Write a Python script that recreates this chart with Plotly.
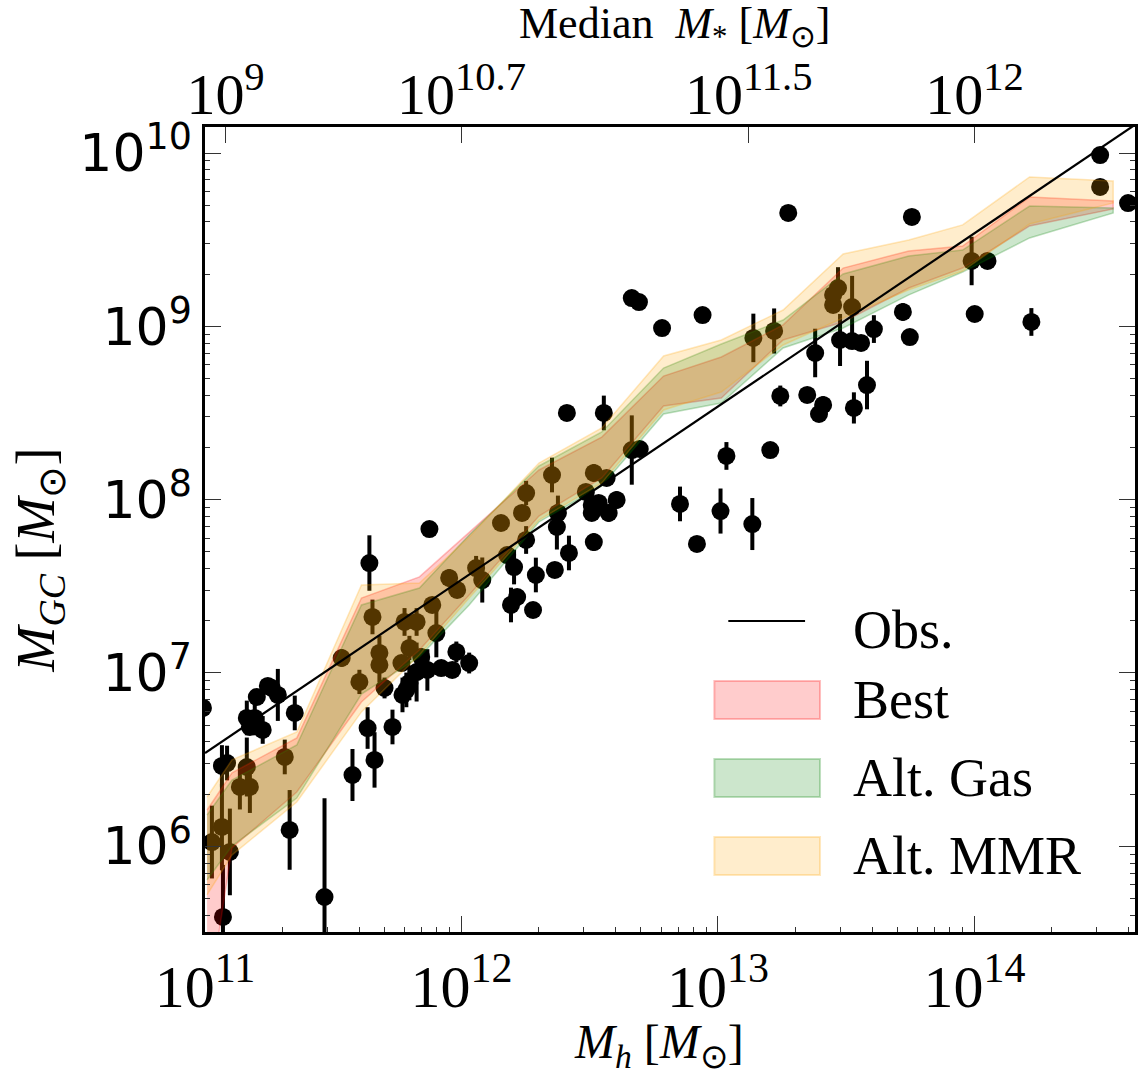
import numpy as np
import plotly.graph_objects as go

# ---- observed systems: log10 halo mass, log10 GC system mass, log10 error (dex) ----
obs_log_mh = [10.992, 11.027, 11.066, 11.086, 11.066, 11.070, 11.097, 11.136, 11.163, 11.175,
              11.163, 11.194, 11.202, 11.225, 11.175, 11.245, 11.260, 11.284, 11.311, 11.330,
              11.350, 11.466, 11.533, 11.575, 11.602, 11.634, 11.641, 11.653, 11.661, 11.680,
              11.680, 11.700, 11.731, 11.766, 11.778, 11.825, 11.770, 11.785, 11.797, 11.797,
              11.825, 11.843, 11.867, 11.875, 11.886, 11.902, 11.921, 11.964, 11.952, 11.980,
              11.983, 12.030, 12.057, 12.081, 12.154, 12.178, 12.205, 12.193, 12.217, 12.236,
              12.252, 12.252, 12.290, 12.279, 12.353, 12.364, 12.376, 12.372, 12.411, 12.419,
              12.485, 12.508, 12.535, 12.508, 12.574, 12.605, 12.516, 12.516, 12.555, 12.566,
              12.664, 12.695, 12.664, 12.692, 12.782, 12.852, 12.918, 12.940, 13.010, 13.033,
              13.134, 13.138, 13.204, 13.219, 13.243, 13.274, 13.348, 13.379, 13.394, 13.410,
              13.449, 13.449, 13.468, 13.476, 13.523, 13.558, 13.523, 13.530, 13.581, 13.608,
              13.721, 13.748, 13.756, 13.989, 14.001, 14.051, 14.222, 14.490, 14.490, 14.599]
obs_log_mgc = [6.798, 6.024, 6.463, 6.480, 6.111, 5.592, 5.967, 6.342, 6.457, 6.342,
               6.740, 6.740, 6.861, 6.671, 6.688, 6.925, 6.913, 6.873, 6.515, 6.094,
               6.769, 5.707, 7.086, 6.411, 6.948, 6.682, 7.634, 7.323, 6.498, 7.115,
               7.046, 6.913, 6.688, 7.057, 7.294, 7.294, 6.873, 6.902, 6.942, 7.144,
               7.005, 7.092, 7.017, 7.830, 7.392, 7.230, 7.028, 7.017, 7.548, 7.121,
               7.479, 7.057, 7.605, 7.536, 7.865, 7.680, 7.611, 7.392, 7.438, 7.923,
               8.038, 7.767, 7.565, 7.363, 8.142, 7.594, 7.923, 7.842, 8.500, 7.692,
               8.044, 7.969, 7.981, 7.923, 7.923, 7.998, 7.755, 8.154, 8.500, 8.125,
               8.286, 8.292, 9.163, 9.140, 8.990, 7.975, 7.744, 9.065, 7.934, 8.252,
               7.859, 8.933, 8.286, 8.973, 8.598, 9.654, 8.604, 8.846, 8.494, 8.546,
               9.123, 9.181, 9.221, 8.921, 8.915, 8.904, 9.111, 8.529, 8.661, 8.984,
               9.083, 8.938, 9.631, 9.377, 9.071, 9.377, 9.025, 9.988, 9.804, 9.711]
obs_log_err = [0.00, 0.21, 0.12, 0.10, 0.25, 0.30, 0.25, 0.13, 0.17, 0.15,
               0.10, 0.10, 0.00, 0.08, 0.00, 0.00, 0.00, 0.15, 0.10, 0.23,
               0.10, 0.57, 0.05, 0.15, 0.07, 0.12, 0.16, 0.10, 0.16, 0.10,
               0.10, 0.06, 0.10, 0.00, 0.08, 0.08, 0.10, 0.10, 0.10, 0.07,
               0.17, 0.05, 0.12, 0.00, 0.00, 0.14, 0.00, 0.00, 0.05, 0.06,
               0.00, 0.06, 0.07, 0.13, 0.03, 0.00, 0.10, 0.10, 0.00, 0.00,
               0.07, 0.08, 0.10, 0.00, 0.10, 0.00, 0.10, 0.13, 0.00, 0.10,
               0.00, 0.07, 0.00, 0.00, 0.05, 0.05, 0.05, 0.05, 0.10, 0.00,
               0.20, 0.00, 0.00, 0.00, 0.00, 0.10, 0.00, 0.00, 0.13, 0.08,
               0.15, 0.14, 0.00, 0.13, 0.06, 0.04, 0.00, 0.14, 0.00, 0.05,
               0.00, 0.00, 0.12, 0.15, 0.00, 0.00, 0.18, 0.09, 0.14, 0.08,
               0.05, 0.00, 0.00, 0.14, 0.00, 0.00, 0.08, 0.00, 0.00, 0.00]

# ---- observed scaling relation ----
rel_mh = [1.0e11, 4.3e14]
rel_mgc = [3.45e6, 1.48e10]

# ---- model bands (log10 values at the binned halo masses) ----
band_log_mh = [11.008, 11.105, 11.358, 11.610, 11.836, 12.030, 12.302, 12.547,
               12.788, 13.013, 13.254, 13.488, 13.744, 13.954, 14.215, 14.541]
best_hi = [6.209, 6.423, 6.625, 7.432, 7.554, 7.813, 8.171, 8.361,
           8.713, 8.823, 9.008, 9.336, 9.435, 9.463, 9.746, 9.723]
best_lo = [5.055, 5.990, 6.313, 6.832, 7.132, 7.450, 7.905, 8.125,
           8.540, 8.586, 8.921, 9.025, 9.221, 9.336, 9.579, 9.677]
gas_hi = [6.180, 6.382, 6.584, 7.392, 7.490, 7.796, 8.194, 8.390,
          8.759, 8.898, 9.036, 9.302, 9.406, 9.440, 9.694, 9.683]
gas_lo = [5.805, 6.001, 6.278, 6.878, 7.092, 7.392, 7.871, 8.079,
          8.494, 8.557, 8.875, 8.990, 9.181, 9.313, 9.510, 9.654]
mmr_hi = [6.284, 6.498, 6.659, 7.507, 7.519, 7.784, 8.211, 8.413,
          8.829, 8.921, 9.094, 9.417, 9.498, 9.585, 9.862, 9.838]
mmr_lo = [5.719, 5.949, 6.255, 6.775, 7.103, 7.432, 7.882, 8.096,
          8.517, 8.621, 8.892, 9.048, 9.210, 9.319, 9.590, 9.712]

# ---- axis ticks ----
x_major = [11, 12, 13, 14]
y_major = [6, 7, 8, 9, 10]
top_tick_log_mh = [11.08, 12.0, 13.12, 14.0]
top_tick_text = ["10<sup>9</sup>", "10<sup>10.7</sup>", "10<sup>11.5</sup>", "10<sup>12</sup>"]

SERIF = "Liberation Serif"
SANS = "DejaVu Sans"

x_range = [11.0, 14.626]
y_range = [5.505, 10.150]

fig = go.Figure()

# observed points with error bars (drawn first, bands sit over them)
lm = np.array(obs_log_mgc)
le = np.array(obs_log_err)
fig.add_trace(go.Scatter(
    x=10 ** np.array(obs_log_mh), y=10 ** lm, mode="markers",
    marker=dict(color="black", size=18, line=dict(width=0)),
    error_y=dict(type="data", symmetric=False,
                 array=10 ** (lm + le) - 10 ** lm,
                 arrayminus=10 ** lm - 10 ** (lm - le),
                 color="black", thickness=4, width=0),
    showlegend=False, hoverinfo="skip"))

bands = [
    ("Best", best_lo, best_hi, "rgba(255,0,0,0.2)", "rgba(255,0,0,0.25)"),
    ("Alt. Gas", gas_lo, gas_hi, "rgba(0,128,0,0.2)", "rgba(0,128,0,0.25)"),
    ("Alt. MMR", mmr_lo, mmr_hi, "rgba(255,165,0,0.2)", "rgba(255,165,0,0.25)"),
]
bx = 10 ** np.array(band_log_mh)
for name, lo, hi, fill, edge in bands:
    fig.add_trace(go.Scatter(
        x=np.concatenate([bx, bx[::-1]]),
        y=np.concatenate([10 ** np.array(hi), 10 ** np.array(lo)[::-1]]),
        mode="lines", fill="toself", fillcolor=fill,
        line=dict(color=edge, width=1.5), name=name,
        showlegend=False, hoverinfo="skip"))

fig.add_trace(go.Scatter(x=rel_mh, y=rel_mgc, mode="lines",
                         line=dict(color="black", width=2.2), name="Obs.",
                         showlegend=False, hoverinfo="skip"))

# invisible trace that carries the top (stellar mass) axis
fig.add_trace(go.Scatter(x=[10 ** 11.5], y=[1e7], xaxis="x2", mode="markers",
                         marker=dict(opacity=0), showlegend=False, hoverinfo="skip"))

x_minor = [k * 10.0 ** n for n in range(11, 15) for k in range(2, 10)]
y_minor = [k * 10.0 ** n for n in range(5, 11) for k in range(2, 10)]

fig.update_layout(
    width=1138, height=1077,
    margin=dict(l=205, r=0, t=127, b=145),
    paper_bgcolor="white", plot_bgcolor="white",
    showlegend=False,
    xaxis=dict(type="log", range=x_range, showgrid=False, zeroline=False,
               showline=True, linecolor="black", linewidth=2.5, mirror=True,
               ticks="inside", ticklen=16, tickwidth=1.3, tickcolor="#333",
               tickmode="array", tickvals=[10.0 ** v for v in x_major],
               ticktext=[f"10<sup>{v}</sup>" for v in x_major],
               tickfont=dict(family=SERIF, size=60, color="black"),
               minor=dict(tickmode="array", tickvals=x_minor, ticks="inside",
                          ticklen=5, tickwidth=1.1, tickcolor="#333", showgrid=False)),
    xaxis2=dict(type="log", range=x_range, overlaying="x", side="top",
                showgrid=False, zeroline=False, showline=False,
                ticks="inside", ticklen=16, tickwidth=1.3, tickcolor="#333",
                tickmode="array", tickvals=[10.0 ** v for v in top_tick_log_mh],
                ticktext=top_tick_text,
                tickfont=dict(family=SERIF, size=58, color="black")),
    yaxis=dict(type="log", range=y_range, showgrid=False, zeroline=False,
               showline=True, linecolor="black", linewidth=2.5, mirror="ticks",
               ticks="inside", ticklen=16, tickwidth=1.3, tickcolor="#333",
               tickmode="array", tickvals=[10.0 ** v for v in y_major],
               ticktext=[f"10<sup>{v}</sup>" for v in y_major],
               tickfont=dict(family=SANS, size=52, color="black"),
               minor=dict(tickmode="array", tickvals=y_minor, ticks="inside",
                          ticklen=5, tickwidth=1.1, tickcolor="#333", showgrid=False)),
)


def px(x):
    return (x - 205) / 933.0


def py(y):
    return (932 - y) / 805.0


# axis titles
fig.add_annotation(text="<i>M<sub>h</sub></i> [<i>M</i><sub>⊙</sub>]", xref="paper", yref="paper",
                   x=px(660), y=py(1045), showarrow=False,
                   font=dict(family=SERIF, size=48, color="black"),
                   xanchor="center", yanchor="middle")
fig.add_annotation(text="Median&nbsp;&nbsp;<i>M</i><sub>*</sub> [<i>M</i><sub>⊙</sub>]",
                   xref="paper", yref="paper", x=px(676), y=py(27), showarrow=False,
                   font=dict(family=SERIF, size=44, color="black"),
                   xanchor="center", yanchor="middle")
fig.add_annotation(text="<i>M<sub>GC</sub></i> [<i>M</i><sub>⊙</sub>]", xref="paper", yref="paper",
                   x=px(38), y=py(560), showarrow=False,
                   font=dict(family=SERIF, size=54, color="black"), textangle=-90,
                   xanchor="center", yanchor="middle")

# legend
leg_font = dict(family=SERIF, size=54, color="black")
fig.add_shape(type="line", xref="paper", yref="paper", x0=px(730), x1=px(807),
              y0=py(621), y1=py(621), line=dict(color="black", width=2.2))
fig.add_annotation(text="Obs.", xref="paper", yref="paper", x=px(853), y=py(630),
                   showarrow=False, font=leg_font, xanchor="left", yanchor="middle")
leg_rows = [(700, bands[0]), (778, bands[1]), (856, bands[2])]
for yc, (name, lo, hi, fill, edge) in leg_rows:
    fig.add_shape(type="rect", xref="paper", yref="paper", x0=px(716), x1=px(822),
                  y0=py(yc - 19), y1=py(yc + 19), fillcolor=fill,
                  line=dict(color=edge, width=2))
    fig.add_annotation(text=name, xref="paper", yref="paper", x=px(853), y=py(yc),
                       showarrow=False, font=leg_font, xanchor="left", yanchor="middle")

fig.write_html("out.html")
